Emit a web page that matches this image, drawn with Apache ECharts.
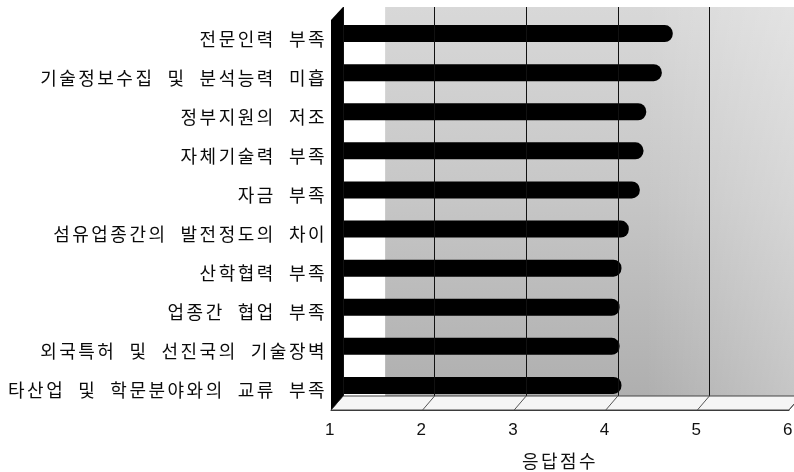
<!DOCTYPE html>
<html>
<head>
<meta charset="utf-8">
<script src="https://cdn.jsdelivr.net/npm/echarts@6/dist/echarts.min.js"></script>
<style>
  html, body { margin: 0; padding: 0; background: #fff; }
  #chart { width: 794px; height: 472px; }
</style>
</head>
<body>
<div id="chart"></div>
<script>
// Survey: obstacles to technology development (mean response score, 1-6 scale)
const categories = [
  '전문인력 부족',
  '기술정보수집 및 분석능력 미흡',
  '정부지원의 저조',
  '자체기술력 부족',
  '자금 부족',
  '섬유업종간의 발전정도의 차이',
  '산학협력 부족',
  '업종간 협업 부족',
  '외국특허 및 선진국의 기술장벽',
  '타산업 및 학문분야와의 교류 부족'
];
const scores = [4.60, 4.48, 4.31, 4.28, 4.24, 4.12, 4.04, 4.02, 4.02, 4.04];
const scaleMin = 1;
const scaleMax = 6;
const scaleStep = 1;
const axisTitle = '응답점수';

// Hangul labels are set with wide tracking, as in the printed report.
(function () {
  const proto = CanvasRenderingContext2D.prototype;
  const fill = proto.fillText;
  proto.fillText = function (text, x, y, maxW) {
    if (typeof text === 'string' && /[\uAC00-\uD7A3]/.test(text)) {
      const ls = this.letterSpacing, ws = this.wordSpacing;
      this.letterSpacing = '2.5px';
      this.wordSpacing = '6.5px';
      const r = maxW === undefined ? fill.call(this, text, x, y) : fill.call(this, text, x, y, maxW);
      this.letterSpacing = ls;
      this.wordSpacing = ws;
      return r;
    }
    return maxW === undefined ? fill.call(this, text, x, y) : fill.call(this, text, x, y, maxW);
  };
})();

// 3D-style layout: back wall, bar plane and front (floor edge) plane
const WALL = { left: 343, top: 7, width: 458, height: 389 };
const BARS = { left: 343, top: 14, width: 458, height: 391 };
const FRONT = { left: 331, top: 20, width: 458, height: 390 };

const KR = 'Noto Sans CJK KR';
const chart = echarts.init(document.getElementById('chart'), null, { renderer: 'canvas' });

const option = {
  animation: false,
  backgroundColor: '#fff',
  grid: [
    Object.assign({
      show: true, borderWidth: 0, outerBoundsMode: 'none', containLabel: false,
      backgroundColor: new echarts.graphic.LinearGradient(0, 0, 0, 1, [
        { offset: 0, color: '#d8d8d8' },
        { offset: 0.5, color: '#c6c6c6' },
        { offset: 1, color: '#afafaf' }
      ])
    }, WALL),
    Object.assign({ show: false, outerBoundsMode: 'none', containLabel: false }, BARS),
    Object.assign({ show: false, outerBoundsMode: 'none', containLabel: false }, FRONT)
  ],
  xAxis: [
    {
      gridIndex: 0, type: 'value', min: scaleMin, max: scaleMax, interval: scaleStep,
      position: 'top', z: 3,
      axisLine: { show: true, lineStyle: { color: '#aaa', width: 1, type: [3, 3] } },
      axisTick: { show: false }, axisLabel: { show: false },
      splitLine: { show: true, lineStyle: { color: '#111', width: 1 } }
    },
    {
      gridIndex: 1, type: 'value', min: scaleMin, max: scaleMax, interval: scaleStep,
      show: false, splitLine: { show: false }
    },
    {
      gridIndex: 2, type: 'value', min: scaleMin, max: scaleMax, interval: scaleStep,
      position: 'bottom',
      axisLine: { show: true, lineStyle: { color: '#333', width: 1 } },
      axisTick: { show: false },
      splitLine: { show: false },
      axisLabel: {
        show: true, margin: 12, color: '#111', fontSize: 17,
        fontFamily: 'Liberation Sans, Arial, sans-serif'
      },
      name: axisTitle, nameLocation: 'middle', nameGap: 42,
      nameTextStyle: { color: '#111', fontSize: 18, fontFamily: KR }
    }
  ],
  yAxis: [
    { gridIndex: 0, type: 'value', min: 0, max: 1, show: false, splitLine: { show: false } },
    {
      gridIndex: 1, type: 'category', inverse: true, data: categories,
      axisLine: { show: false }, axisTick: { show: false }, axisLabel: { show: false },
      splitLine: { show: false }
    },
    {
      gridIndex: 2, type: 'category', inverse: true, data: categories,
      axisLine: { show: false }, axisTick: { show: false }, splitLine: { show: false },
      axisLabel: { show: true, margin: 4, color: '#0a0a0a', fontSize: 18, fontFamily: KR }
    }
  ],
  series: [
    {
      // wall shading: pale strip beside the left wall, lighter right side
      type: 'line', xAxisIndex: 0, yAxisIndex: 0, data: [[scaleMin, 0]],
      symbol: 'none', silent: true, lineStyle: { width: 0 },
      markArea: {
        silent: true,
        data: [
          [{ xAxis: 1, itemStyle: { color: '#fff' } }, { xAxis: 1.46 }],
          [{
            xAxis: 4.3,
            itemStyle: {
              color: new echarts.graphic.LinearGradient(0, 0, 1, 0, [
                { offset: 0, color: 'rgba(255,255,255,0)' },
                { offset: 1, color: 'rgba(255,255,255,0.3)' }
              ])
            }
          }, { xAxis: scaleMax }]
        ]
      }
    },
    {
      type: 'bar', xAxisIndex: 1, yAxisIndex: 1, data: scores,
      barWidth: 17, silent: true,
      itemStyle: { color: '#000', borderRadius: [0, 8, 8, 0] }
    }
  ]
};

chart.setOption(option);

// Floor, slanted floor ticks and the left wall, placed from the axes
const fx = v => chart.convertToPixel({ xAxisIndex: 2 }, v);
const bx = v => chart.convertToPixel({ xAxisIndex: 0 }, v);
const frontY = FRONT.top + FRONT.height;
const backY = WALL.top + WALL.height;
const ticks = [];
for (let v = scaleMin; v <= scaleMax; v += scaleStep) ticks.push(v);

const elements = [
  {
    type: 'polygon', z: 50, silent: true,
    shape: { points: [[fx(scaleMin), frontY], [fx(scaleMax), frontY], [bx(scaleMax), backY], [bx(scaleMin), backY]] },
    style: { fill: '#f5f5f5', stroke: '#444', lineWidth: 1 }
  }
];
ticks.forEach(v => {
  elements.push({
    type: 'line', z: 51, silent: true,
    shape: { x1: fx(v), y1: frontY, x2: bx(v), y2: backY },
    style: { stroke: '#555', lineWidth: 1 }
  });
});
elements.push({
  type: 'polygon', z: 60, silent: true,
  shape: { points: [[fx(scaleMin), FRONT.top], [bx(scaleMin), WALL.top], [bx(scaleMin), backY], [fx(scaleMin), frontY]] },
  style: { fill: '#000' }
});
chart.setOption({ graphic: { elements: elements } });
</script>
</body>
</html>
